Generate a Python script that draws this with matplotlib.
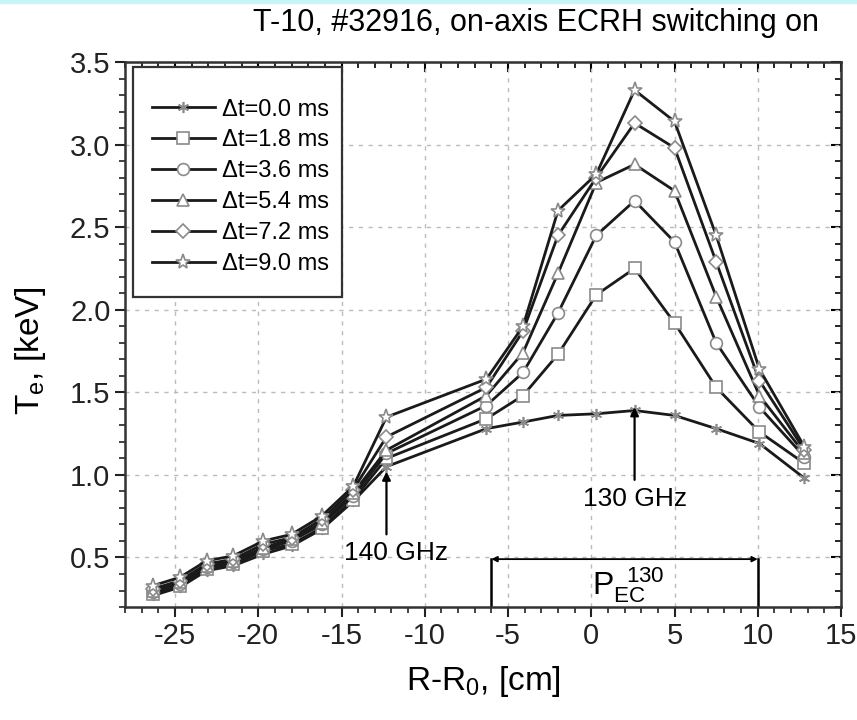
import matplotlib
matplotlib.use('Agg')
import matplotlib.pyplot as plt
from matplotlib.ticker import MultipleLocator
from matplotlib.patches import Rectangle

plt.rcParams['font.family'] = ['Liberation Sans', 'DejaVu Sans']
plt.rcParams['mathtext.fontset'] = 'custom'
plt.rcParams['mathtext.rm'] = 'Liberation Sans'
plt.rcParams['mathtext.it'] = 'Liberation Sans'
plt.rcParams['axes.unicode_minus'] = False

# radius, cm
r = [-26.3, -24.7, -23.1, -21.5, -19.7, -18.0, -16.2, -14.3, -12.3,
     -6.3, -4.1, -2.0, 0.3, 2.6, 5.0, 7.5, 10.1, 12.8]

te_00 = [0.27, 0.32, 0.42, 0.45, 0.52, 0.57, 0.67, 0.84, 1.05,
         1.28, 1.32, 1.36, 1.37, 1.39, 1.36, 1.28, 1.19, 0.98]
te_18 = [0.28, 0.33, 0.43, 0.46, 0.54, 0.58, 0.68, 0.85, 1.10,
         1.34, 1.48, 1.73, 2.09, 2.25, 1.92, 1.53, 1.26, 1.07]
te_36 = [0.29, 0.34, 0.44, 0.47, 0.55, 0.60, 0.70, 0.87, 1.13,
         1.42, 1.62, 1.98, 2.45, 2.66, 2.41, 1.80, 1.41, 1.11]
te_54 = [0.30, 0.35, 0.45, 0.48, 0.56, 0.61, 0.71, 0.89, 1.15,
         1.48, 1.74, 2.22, 2.77, 2.88, 2.72, 2.08, 1.48, 1.13]
te_72 = [0.31, 0.36, 0.46, 0.49, 0.58, 0.62, 0.73, 0.91, 1.23,
         1.53, 1.87, 2.45, 2.80, 3.13, 2.98, 2.29, 1.57, 1.15]
te_90 = [0.33, 0.38, 0.48, 0.51, 0.60, 0.64, 0.75, 0.93, 1.35,
         1.58, 1.90, 2.60, 2.82, 3.33, 3.14, 2.45, 1.64, 1.17]

labels = ['\u0394t=0.0 ms', '\u0394t=1.8 ms', '\u0394t=3.6 ms',
          '\u0394t=5.4 ms', '\u0394t=7.2 ms', '\u0394t=9.0 ms']
markers = [(6, 2, 0), 's', 'o', '^', 'D', '*']
sizes = [8, 8, 8.5, 8.5, 7, 11]

fig = plt.figure(figsize=(8.57, 7.2), dpi=100)
fig.patches.append(Rectangle((0, 0.996), 1, 0.004, transform=fig.transFigure,
                             color='#c8f4f8', zorder=-1))
ax = fig.add_axes([0.1459, 0.1569, 0.8355, 0.757])

for y, lab, m, s in zip([te_00, te_18, te_36, te_54, te_72, te_90], labels, markers, sizes):
    ax.plot(r, y, color='#1a1a1a', lw=2, marker=m, ms=s, mfc='white',
            mec='#8a8a8a', mew=1.2, label=lab, zorder=3)

ax.set_xlim(-28, 15)
ax.set_ylim(0.2, 3.5)
ax.xaxis.set_major_locator(MultipleLocator(5))
ax.xaxis.set_minor_locator(MultipleLocator(1))
ax.yaxis.set_minor_locator(MultipleLocator(0.1))
ax.set_yticks([0.5, 1.0, 1.5, 2.0, 2.5, 3.0, 3.5])
ax.set_yticklabels(['0.5', '1.0', '1.5', '2.0', '2.5', '3.0', '3.5'])
ax.grid(True, which='major', color='#bbbbbb', ls=(0, (3, 4)), lw=1)
ax.tick_params(which='major', direction='out', length=7, width=1.5,
               labelsize=21, colors='#222222')
ax.tick_params(which='minor', direction='out', length=4, width=1.2, colors='#222222')
for sp in ax.spines.values():
    sp.set_linewidth(1.8)
    sp.set_color('#333333')

top = ax.secondary_xaxis('top')
top.xaxis.set_major_locator(MultipleLocator(5))
top.xaxis.set_minor_locator(MultipleLocator(1))
top.tick_params(which='major', direction='in', length=7, width=1.5, labeltop=False)
top.tick_params(which='minor', direction='in', length=4, width=1.2)
right = ax.secondary_yaxis('right')
right.yaxis.set_major_locator(MultipleLocator(0.5))
right.yaxis.set_minor_locator(MultipleLocator(0.1))
right.tick_params(which='major', direction='in', length=7, width=1.5, labelright=False)
right.tick_params(which='minor', direction='in', length=4, width=1.2)

ax.set_xlabel(r'R-R$_0$, [cm]', fontsize=24, labelpad=10)
ax.set_ylabel(r'T$_e$, [keV]', fontsize=24)
ax.yaxis.set_label_coords(-0.108, 0.47)
fig.text(0.626, 0.968, 'T-10, #32916, on-axis ECRH switching on',
         fontsize=22, ha='center', va='center')

ax.annotate('', xy=(2.6, 1.41), xytext=(2.6, 0.97),
            arrowprops=dict(arrowstyle='-|>', color='black', lw=1.6,
                            mutation_scale=12, shrinkA=0, shrinkB=0))
ax.text(2.6, 0.855, '130 GHz', fontsize=19, ha='center', va='center')
ax.annotate('', xy=(-12.3, 1.02), xytext=(-12.3, 0.64),
            arrowprops=dict(arrowstyle='-|>', color='black', lw=1.6,
                            mutation_scale=12, shrinkA=0, shrinkB=0))
ax.text(-11.7, 0.53, '140 GHz', fontsize=19, ha='center', va='center')

ax.plot([-6, -6], [0.2, 0.49], color='black', lw=1.8)
ax.plot([10, 10], [0.2, 0.49], color='black', lw=1.8)
ax.annotate('', xy=(-6, 0.49), xytext=(10, 0.49),
            arrowprops=dict(arrowstyle='<|-|>', color='black', lw=1.3,
                            mutation_scale=8, shrinkA=0, shrinkB=0))
ax.text(2.2, 0.33, r'P$_{\mathrm{EC}}^{\ \ 130}$', fontsize=23,
        ha='center', va='center')

# legend: frame drawn separately so it can hug the text
ax.add_patch(Rectangle((0.0112, 0.569), 0.2918, 0.422, transform=ax.transAxes,
                       fill=True, facecolor='white', edgecolor='#333333',
                       lw=1.6, zorder=4))
leg = ax.legend(loc='upper left', bbox_to_anchor=(0.037, 0.933), fontsize=17,
                frameon=False, handlelength=2.7, handletextpad=0.3,
                labelspacing=0.38, borderpad=0, borderaxespad=0)
leg.set_zorder(5)

fig.savefig('out.png', dpi=100)
